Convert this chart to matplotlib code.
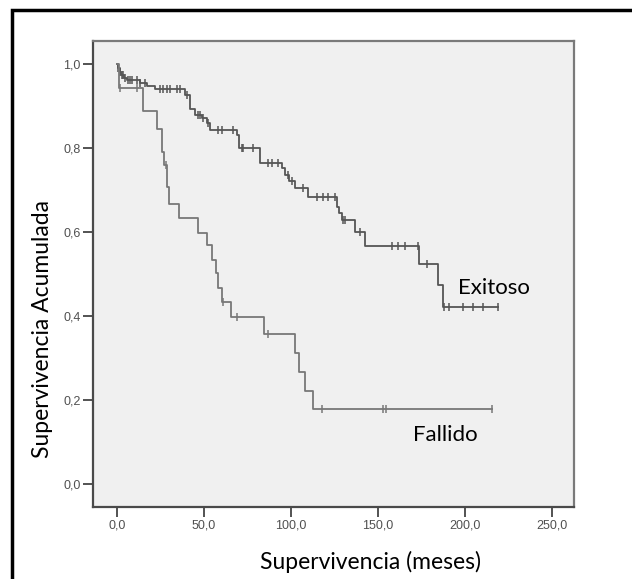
import numpy as np
import matplotlib
matplotlib.use("Agg")
import matplotlib.pyplot as plt
from matplotlib.patches import Rectangle

# Kaplan-Meier steps: time of drop (meses), survival after drop
exitoso_t = [0, 0.5, 1.5, 2.5, 4, 6, 13, 17, 22, 39, 42, 44.8, 48.7, 51.5, 53.4,
             68.8, 70.3, 82.2, 94.6, 96.5, 99, 102.3, 110, 126.2, 127.5, 129,
             136.8, 142.5, 173.5, 184.7, 187.2]
exitoso_s = [1.0, 0.99, 0.98, 0.974, 0.966, 0.962, 0.955, 0.948, 0.941, 0.926,
             0.894, 0.879, 0.871, 0.859, 0.844, 0.831, 0.799, 0.764, 0.752, 0.736,
             0.722, 0.706, 0.684, 0.660, 0.645, 0.629, 0.601, 0.567, 0.525, 0.474,
             0.422]
exitoso_cens = [0.8, 2.0, 2.7, 3.5, 4.6, 6.5, 7.5, 8.4, 11.3, 13.2, 16.1, 24.7,
                26.6, 28.5, 30.5, 34.3, 36.2, 40.5, 46.7, 47.8, 49.6, 52.5, 58.2,
                60.1, 66.8, 71.6, 72.6, 78.3, 87, 88.9, 92.7, 98.4, 100.4, 107,
                114.8, 118.6, 121.5, 125.3, 129.8, 131, 139.7, 157.9, 161.7,
                165.5, 173.2, 178, 187.8, 191, 199, 204.8, 210.2, 219.2]

fallido_t = [0, 1.0, 15, 23, 25.7, 27, 28.9, 30.1, 35.6, 46.6, 51.7, 54.6, 57,
             58, 60.3, 65.5, 84.5, 102.3, 104.6, 108, 112.6]
fallido_s = [1.0, 0.944, 0.889, 0.845, 0.79, 0.76, 0.708, 0.667, 0.633, 0.598,
             0.569, 0.533, 0.502, 0.467, 0.433, 0.397, 0.357, 0.312, 0.267,
             0.221, 0.178]
fallido_cens = [1.7, 11.3, 28.2, 61, 69, 86.8, 117.8, 152.9, 154.5, 215.5]

x_ticks = [0, 50, 100, 150, 200, 250]
y_ticks = [0.0, 0.2, 0.4, 0.6, 0.8, 1.0]

label_font = "Lato"

fig = plt.figure(figsize=(6.32, 5.79), dpi=100)
ax = fig.add_axes([93 / 632, 1 - 507 / 579, (574 - 93) / 632, (507 - 41) / 579])
ax.set_facecolor("#f0f0f0")


def draw_km(t, s, cens, col):
    t = np.array(t, dtype=float)
    s = np.array(s, dtype=float)
    end = max(cens[-1], t[-1])
    tt = np.append(t, end)
    ss = np.append(s, s[-1])
    ax.step(tt, ss, where="post", color=col, lw=1.3)
    # censor marks sit on the curve
    idx = np.searchsorted(t, cens, side="right") - 1
    ax.plot(cens, s[idx], linestyle="none", marker="|", markersize=6,
            markeredgewidth=1.1, color=col)


draw_km(exitoso_t, exitoso_s, exitoso_cens, "#555555")
draw_km(fallido_t, fallido_s, fallido_cens, "#787878")

ax.set_xlim(-13.8, 262.6)
ax.set_ylim(-0.055, 1.055)
ax.set_xticks(x_ticks)
ax.set_xticklabels([f"{v:.1f}".replace(".", ",") for v in x_ticks])
ax.set_yticks(y_ticks)
ax.set_yticklabels([f"{v:.1f}".replace(".", ",") for v in y_ticks])
ax.tick_params(direction="out", length=7, width=1.3, color="#444444",
               labelsize=9, labelcolor="#505050", pad=2)
for lab in ax.get_xticklabels() + ax.get_yticklabels():
    lab.set_family("Liberation Sans")

for side in ["left", "bottom"]:
    ax.spines[side].set_color("#4a4a4a")
    ax.spines[side].set_linewidth(1.6)
for side in ["top", "right"]:
    ax.spines[side].set_color("#7a7a7a")
    ax.spines[side].set_linewidth(1.6)

ax.text(196, 0.467, "Exitoso", fontsize=16, family=label_font, va="center", ha="left")
ax.text(170, 0.117, "Fallido", fontsize=16, family=label_font, va="center", ha="left")

fig.text(370 / 632, 1 - 562 / 579, "Supervivencia (meses)", fontsize=16.5,
         family=label_font, ha="center", va="center")
fig.text(43 / 632, 1 - 329 / 579, "Supervivencia Acumulada", fontsize=16.5,
         family=label_font, ha="center", va="center", rotation=90)

# outer frame (cut off at right and bottom)
fig.patches.append(Rectangle((12 / 632, -0.2), 1.2, 1.2 - 11 / 579 + 0.001,
                             transform=fig.transFigure, fill=False,
                             edgecolor="black", lw=2.5))

fig.savefig("out.png", dpi=100)
